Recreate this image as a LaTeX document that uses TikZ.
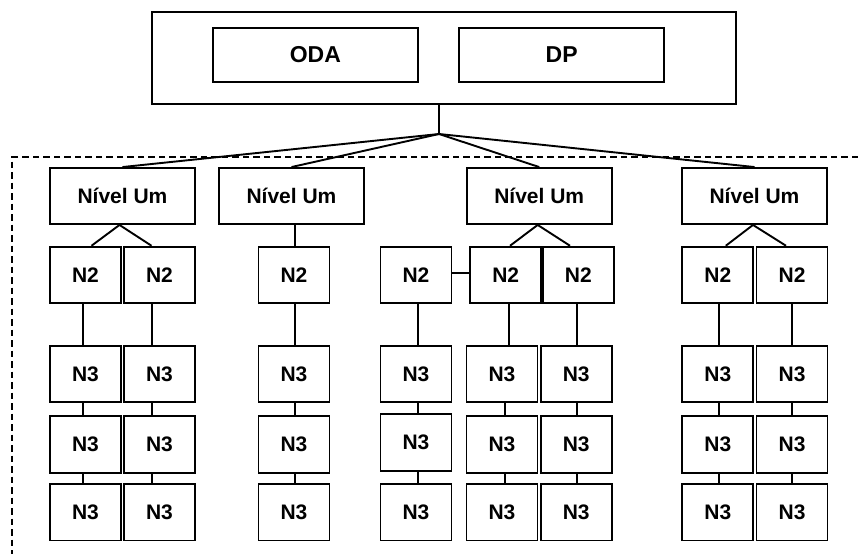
\documentclass[tikz,border=0pt]{standalone}
\usepackage{fontspec}
\setmainfont{Liberation Sans}
\begin{document}
\begin{tikzpicture}[x=1pt,y=-1pt,
  box/.style={draw,line width=1.9pt,inner sep=0pt,font=\fontsize{21}{21}\selectfont\bfseries},
  bigbox/.style={box,font=\fontsize{23}{23}\selectfont\bfseries},
  unit/.style={box,minimum width=145pt,minimum height=56pt},
  small/.style={box,minimum width=71pt,minimum height=56pt},
  link/.style={line width=1.9pt},
  boundary/.style={line width=1.5pt,dash pattern=on 6.5pt off 4pt}]
\useasboundingbox (0,0) rectangle (858,554);

% head office block
\node[box,minimum width=584.6pt,minimum height=92pt] (top) at (444,58) {};
\node[bigbox,minimum width=205.3pt,minimum height=54pt] (oda) at (315.3,55) {ODA};
\node[bigbox,minimum width=205.3pt,minimum height=54pt] (dp) at (561.7,55) {DP};
\coordinate (J) at (439,134);

% dashed boundary
\draw[boundary] (858,157) -- (12,157) -- (12,554);

% first level
\node[unit] (u1) at (122.5,196) {Nível Um};
\node[unit] (u2) at (291.5,196) {Nível Um};
\node[unit] (u3) at (539.2,196) {Nível Um};
\node[unit] (u4) at (754.5,196) {Nível Um};

% second level
\foreach \n/\x in {a/85.5,b/159.5,c/294,d/416,e/505.7,f/578.3,g/717.8,h/792}
  \node[small] (n2\n) at (\x,274.7) {N2};

% third level
\foreach \n/\x in {a/85.5,b/159.5,c/294,d/416,e/502,f/576.2,g/717.8,h/792}{
  \node[small,minimum height=56.3pt] (n3\n1) at (\x,374.2) {N3};
  \node[small,minimum height=56.3pt] (n3\n3) at (\x,512.3) {N3};
}
\foreach \n/\x in {a/85.5,b/159.5,c/294,e/502,f/576.2,g/717.8,h/792}
  \node[small,minimum height=56.5pt] (n3\n2) at (\x,444.3) {N3};
\node[small,minimum height=56.5pt] (n3d2) at (416,442.5) {N3};

% x positions of the vertical chain links (N2 to N3, then between N3 rows)
\foreach \n/\xa/\xb in {a/83/83,b/152/152,c/295/295,d/418/418,e/509/505,f/577/577,g/719/719,h/792/792}{
  \coordinate (top\n) at (\xa,0);
  \coordinate (low\n) at (\xb,0);
}

% connectors
\draw[link] (top.south -| J) -- (J);
\foreach \u in {u1,u2,u3,u4}
  \draw[link] (J) -- (\u.north);

\draw[link] ([xshift=-3pt]u1.south) -- ([xshift=6pt]n2a.north);
\draw[link] ([xshift=-3pt]u1.south) -- ([xshift=-8pt]n2b.north);
\draw[link] (u2.south -| topc) -- (n2c.north -| topc);
\draw[link] ([xshift=-1.5pt]u3.south) -- ([xshift=4.3pt]n2e.north);
\draw[link] ([xshift=-1.5pt]u3.south) -- ([xshift=-8.3pt]n2f.north);
\draw[link] ([xshift=-1.5pt]u4.south) -- ([xshift=8pt]n2g.north);
\draw[link] ([xshift=-1.5pt]u4.south) -- ([xshift=-6pt]n2h.north);
\draw[link] ([yshift=2pt]n2d.east) -- ([yshift=2pt]n2d.east -| n2e.west);

\foreach \n in {a,b,c,d,e,f,g,h}{
  \draw[link] (n2\n.south -| top\n) -- (n3\n1.north -| top\n);
  \draw[link] (n3\n1.south -| low\n) -- (n3\n2.north -| low\n);
  \draw[link] (n3\n2.south -| low\n) -- (n3\n3.north -| low\n);
}
\end{tikzpicture}
\end{document}
